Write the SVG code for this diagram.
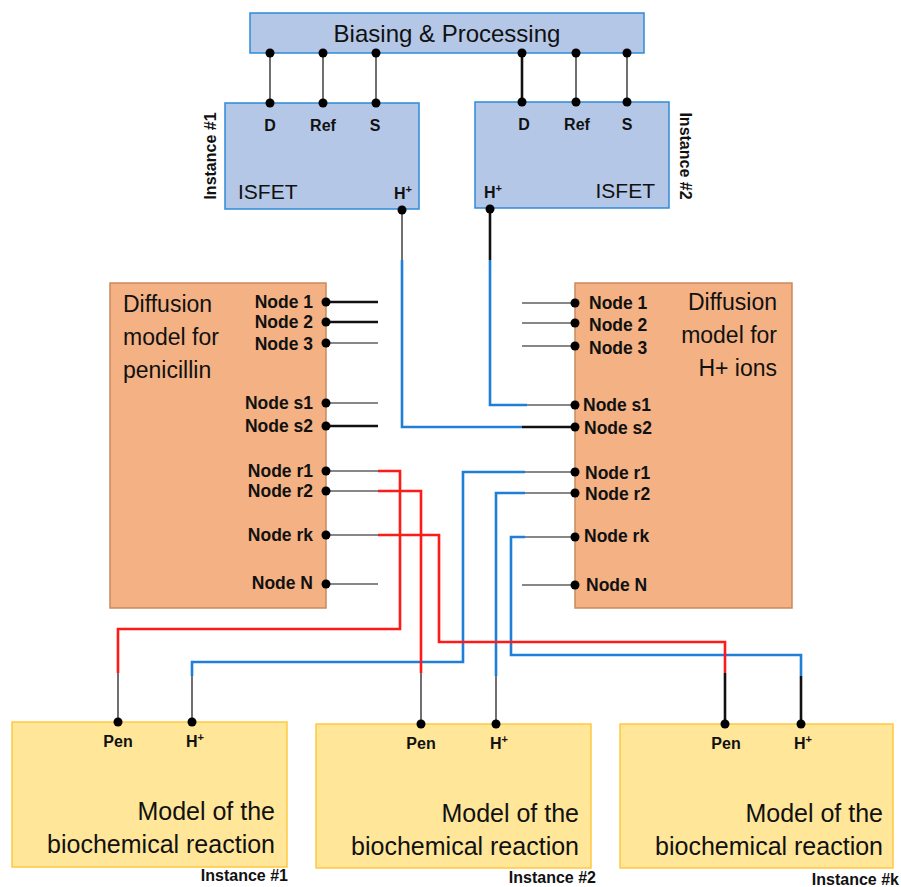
<svg xmlns="http://www.w3.org/2000/svg" width="901" height="887" viewBox="0 0 901 887">
<style>
.blu{fill:#b4c7e7;stroke:#2e8ad8;stroke-width:1.5}
.org{fill:#f4b183;stroke:#c98a5c;stroke-width:1.5}
.yel{fill:#ffe699;stroke:#ffc940;stroke-width:1.5}
.t{font-family:"Liberation Sans",Arial,sans-serif;fill:#111}
.big{font-size:23px}
.b{font-size:16px;font-weight:bold}
.n{font-size:17.5px;font-weight:bold}
.m{font-size:25px}
.w{stroke:#111;stroke-width:1.2;fill:none}
.wk{stroke:#111;stroke-width:2.6;fill:none}
.bl{stroke:#1f7fd6;stroke-width:2.6;fill:none}
.rd{stroke:#ff1a1a;stroke-width:2.6;fill:none}
.d{fill:#000}
</style>
<g id="biasing">
<rect class="blu" x="250" y="13" width="394" height="40"/>
<text class="t" x="447" y="42" font-size="24" text-anchor="middle">Biasing &amp; Processing</text>
</g>
<g id="isfet1">
<rect class="blu" x="225" y="103" width="194" height="106"/>
<text class="t b" x="270" y="131" text-anchor="middle">D</text>
<text class="t b" x="323" y="131" text-anchor="middle">Ref</text>
<text class="t b" x="375" y="131" text-anchor="middle">S</text>
<text class="t" x="238" y="199" font-size="21">ISFET</text>
<text class="t b" x="394" y="199">H<tspan font-size="11" dy="-6">+</tspan></text>
<text class="t b" font-size="17" transform="translate(216,156) rotate(-90)" text-anchor="middle">Instance #1</text>
</g>
<g id="isfet2">
<rect class="blu" x="475" y="102" width="194" height="106"/>
<text class="t b" x="524" y="130" text-anchor="middle">D</text>
<text class="t b" x="577" y="130" text-anchor="middle">Ref</text>
<text class="t b" x="627" y="130" text-anchor="middle">S</text>
<text class="t" x="655" y="198" font-size="21" text-anchor="end">ISFET</text>
<text class="t b" x="484" y="198">H<tspan font-size="11" dy="-6">+</tspan></text>
<text class="t b" font-size="17" transform="translate(680,156) rotate(90)" text-anchor="middle">Instance #2</text>
</g>
<g id="diff-pen">
<rect class="org" x="110" y="283" width="216" height="325"/>
<text class="t big" x="123" y="312">Diffusion</text>
<text class="t big" x="123" y="345">model for</text>
<text class="t big" x="123" y="378">penicillin</text>
<g class="t n" text-anchor="end">
<text x="313" y="308">Node 1</text>
<text x="313" y="328">Node 2</text>
<text x="313" y="350">Node 3</text>
<text x="313" y="409">Node s1</text>
<text x="313" y="432">Node s2</text>
<text x="313" y="477">Node r1</text>
<text x="313" y="497">Node r2</text>
<text x="313" y="541">Node rk</text>
<text x="313" y="589">Node N</text>
</g>
</g>
<g id="diff-h">
<rect class="org" x="575" y="283" width="217" height="325"/>
<text class="t big" x="777" y="310" text-anchor="end">Diffusion</text>
<text class="t big" x="777" y="343" text-anchor="end">model for</text>
<text class="t big" x="777" y="376" text-anchor="end">H+ ions</text>
<g class="t n">
<text x="589" y="309">Node 1</text>
<text x="589" y="331">Node 2</text>
<text x="589" y="354">Node 3</text>
<text x="583" y="411">Node s1</text>
<text x="584" y="434">Node s2</text>
<text x="585" y="479">Node r1</text>
<text x="585" y="500">Node r2</text>
<text x="584" y="542">Node rk</text>
<text x="586" y="591">Node N</text>
</g>
</g>
<g id="bio1">
<rect class="yel" x="12" y="722" width="275" height="145"/>
<text class="t b" x="118" y="747" text-anchor="middle">Pen</text>
<text class="t b" x="186" y="747">H<tspan font-size="11" dy="-6">+</tspan></text>
<text class="t m" x="275" y="820" text-anchor="end">Model of the</text>
<text class="t m" x="275" y="853" text-anchor="end">biochemical reaction</text>
<text class="t b" x="288" y="881" text-anchor="end">Instance #1</text>
</g>
<g id="bio2">
<rect class="yel" x="316" y="724" width="275" height="144"/>
<text class="t b" x="421" y="749" text-anchor="middle">Pen</text>
<text class="t b" x="490" y="749">H<tspan font-size="11" dy="-6">+</tspan></text>
<text class="t m" x="579" y="822" text-anchor="end">Model of the</text>
<text class="t m" x="579" y="855" text-anchor="end">biochemical reaction</text>
<text class="t b" x="596" y="883" text-anchor="end">Instance #2</text>
</g>
<g id="bio3">
<rect class="yel" x="620" y="724" width="273" height="144"/>
<text class="t b" x="726" y="749" text-anchor="middle">Pen</text>
<text class="t b" x="794" y="749">H<tspan font-size="11" dy="-6">+</tspan></text>
<text class="t m" x="883" y="822" text-anchor="end">Model of the</text>
<text class="t m" x="883" y="855" text-anchor="end">biochemical reaction</text>
<text class="t b" x="899" y="885" text-anchor="end">Instance #k</text>
</g>
<g id="connectors">
<path class="w" d="M270 53V103M323 53V103M376 53V103M576 53V103M627 53V103"/>
<path class="wk" d="M522 53V103"/>
<path class="w" d="M326 343H378M326 403H378M326 471H378M326 491H378M326 535H378M326 584H378"/>
<path class="wk" d="M326 302H378M326 322H378M326 426H378"/>
<path class="w" d="M522 303H575M522 323H575M522 346H575M527 405H575M525 472H575M525 493H575M525 537H575M522 585H575"/>
<path class="wk" d="M522 427H575"/>
<path class="w" d="M402 210V260"/>
<path class="bl" d="M402 260V427H522"/>
<path class="wk" d="M490 209V260"/>
<path class="bl" d="M490 260V405H527"/>
<path class="bl" d="M525 472H463V662H192V676"/>
<path class="bl" d="M525 493H496V676"/>
<path class="bl" d="M525 537H511V655H801V676"/>
<path class="rd" d="M378 471H400V629H118V673"/>
<path class="rd" d="M378 491H421V673"/>
<path class="rd" d="M378 535H439V642H725V673"/>
<path class="w" d="M118 673V722M192 676V722M421 673V724M496 676V724"/>
<path class="wk" d="M725 673V724M801 676V724"/>
<g class="d">
<circle cx="270" cy="53" r="4.5"/><circle cx="323" cy="53" r="4.5"/><circle cx="376" cy="53" r="4.5"/>
<circle cx="522" cy="53" r="4.5"/><circle cx="576" cy="53" r="4.5"/><circle cx="627" cy="53" r="4.5"/>
<circle cx="270" cy="103" r="4.5"/><circle cx="323" cy="103" r="4.5"/><circle cx="376" cy="103" r="4.5"/>
<circle cx="522" cy="102" r="4.5"/><circle cx="576" cy="102" r="4.5"/><circle cx="627" cy="102" r="4.5"/>
<circle cx="402" cy="210" r="4.5"/><circle cx="490" cy="209" r="4.5"/>
<circle cx="326" cy="302" r="4.5"/><circle cx="326" cy="322" r="4.5"/><circle cx="326" cy="343" r="4.5"/>
<circle cx="326" cy="403" r="4.5"/><circle cx="326" cy="426" r="4.5"/><circle cx="326" cy="471" r="4.5"/>
<circle cx="326" cy="491" r="4.5"/><circle cx="326" cy="535" r="4.5"/><circle cx="326" cy="584" r="4.5"/>
<circle cx="575" cy="303" r="4.5"/><circle cx="575" cy="323" r="4.5"/><circle cx="575" cy="346" r="4.5"/>
<circle cx="575" cy="405" r="4.5"/><circle cx="575" cy="427" r="4.5"/><circle cx="575" cy="472" r="4.5"/>
<circle cx="575" cy="493" r="4.5"/><circle cx="575" cy="537" r="4.5"/><circle cx="575" cy="585" r="4.5"/>
<circle cx="118" cy="722" r="4.5"/><circle cx="192" cy="722" r="4.5"/>
<circle cx="421" cy="724" r="4.5"/><circle cx="496" cy="724" r="4.5"/>
<circle cx="725" cy="724" r="4.5"/><circle cx="801" cy="724" r="4.5"/>
</g>
</g>
</svg>
